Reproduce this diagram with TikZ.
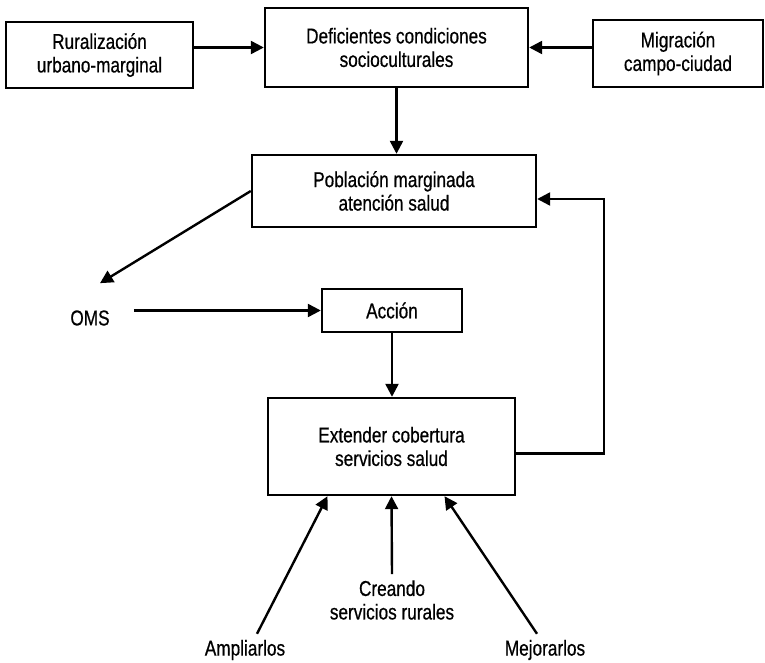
\documentclass[tikz,border=0pt]{standalone}
\usepackage{fontspec}
\setmainfont{Liberation Sans}[FakeStretch=0.8,FakeBold=0.6]
\usetikzlibrary{arrows.meta}
\tikzset{
    flow box/.style={
        draw, line width=2.4pt, align=center, inner sep=0pt,
        font=\fontsize{21.5}{23.5}\selectfont
    },
    free text/.style={
        align=center, inner sep=6pt,
        font=\fontsize{21.5}{23.5}\selectfont
    },
    flow arrow/.style={
        line width=2.4pt,
        -{Triangle[length=13pt,width=13pt]}
    }
}

\begin{document}
\begin{tikzpicture}[x=1pt,y=-1pt]
\useasboundingbox (0,0) rectangle (765,663);
% top row
\node[flow box, minimum width=187pt, minimum height=66pt] (rural) at (99.5,55) {Ruralización\\urbano-marginal};
\node[flow box, minimum width=263pt, minimum height=79pt] (deficientes) at (396.5,47.5) {Deficientes condiciones\\socioculturales};
\node[flow box, minimum width=170pt, minimum height=67pt] (migracion) at (678,53.5) {Migración\\campo-ciudad};
% middle
\node[flow box, minimum width=284pt, minimum height=72pt] (poblacion) at (394,191) {Población marginada\\atención salud};
\node[free text, inner sep=0pt] (oms) at (90,318) {OMS};
\node[flow box, minimum width=140pt, minimum height=43pt] (accion) at (392,310.5) {Acción};
\node[flow box, minimum width=247pt, minimum height=97pt] (extender) at (391.5,446.5) {Extender cobertura\\servicios salud};
% bottom
\node[free text] (creando) at (392,600) {Creando\\servicios rurales};
\node[free text] (ampliarlos) at (245,650) {Ampliarlos};
\node[free text] (mejorarlos) at (545,650) {Mejorarlos};

\draw[flow arrow] (deficientes.west -| rural.east) -- (deficientes.west);
\draw[flow arrow] (deficientes.east -| migracion.west) -- (deficientes.east);
\draw[flow arrow] (deficientes.south) -- (deficientes.south |- poblacion.north);
\draw[flow arrow] (poblacion.west) -- ([shift={(10,-27)}]oms.north);
\draw[flow arrow, shorten <=24pt] (oms.east |- accion.west) -- (accion.west);
\draw[flow arrow] (accion.south) -- (accion.south |- extender.north);
\draw[flow arrow] ([shift={(0,7)}]extender.east) -- ++(88,0) |- ([shift={(0,8)}]poblacion.east);
\draw[flow arrow] ([xshift=12pt]ampliarlos.north) -- ([xshift=-64pt]extender.south);
\draw[flow arrow] (creando.north) -- (extender.south);
\draw[flow arrow] ([xshift=-8pt]mejorarlos.north) -- ([xshift=53pt]extender.south);
\end{tikzpicture}
\end{document}
